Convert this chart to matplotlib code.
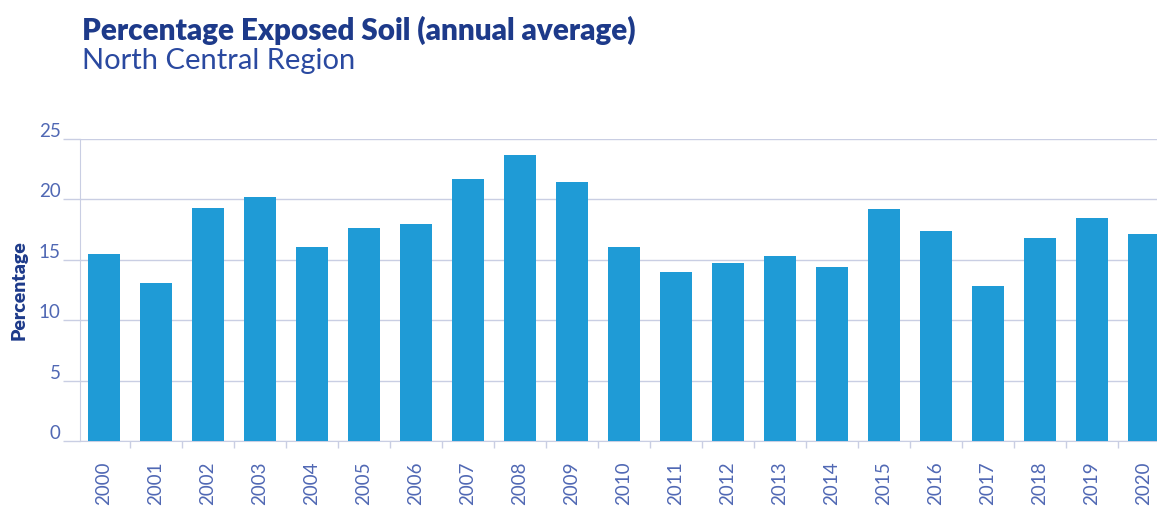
import matplotlib
matplotlib.use("Agg")
import matplotlib.pyplot as plt
import numpy as np

years = [str(y) for y in range(2000, 2021)]
exposed_soil = [15.5, 13.1, 19.3, 20.2, 16.1, 17.6, 18.0, 21.7, 23.7, 21.4,
                16.1, 14.0, 14.7, 15.3, 14.4, 19.2, 17.4, 12.8, 16.8, 18.5, 17.1]
y_ticks = [0, 5, 10, 15, 20, 25]

BAR = "#1f9bd6"
NAVY = "#1d3a8a"
TICK_TXT = "#5068b4"
GRID = "#c9cee3"

plt.rcParams["font.family"] = ["Lato", "DejaVu Sans"]

fig = plt.figure(figsize=(11.57, 5.10), dpi=100)
W, H = 1157, 510
ax = fig.add_axes([80 / W, 1 - 442 / H, (W - 80) / W, (442 - 140) / H])

x = np.arange(len(years))
ax.bar(x, exposed_soil, width=0.6, color=BAR, zorder=3)

ax.set_xlim(-0.46, 20.25)
ax.set_ylim(0, 25)

ax.set_yticks(y_ticks)
ax.set_yticklabels([str(v) for v in y_ticks], va="bottom", color=TICK_TXT,
                   fontsize=13.5, fontweight="normal")
ax.tick_params(axis="y", length=12, width=1, color=GRID, pad=2)
ax.grid(axis="y", color=GRID, linewidth=1, zorder=0)

ax.set_xticks(x)
ax.set_xticklabels(years, rotation=90, color=TICK_TXT, fontsize=13.5,
                   fontweight="normal", va="top")
ax.tick_params(axis="x", length=0, pad=14)
ax.set_xticks(x[:-1] + 0.5, minor=True)
ax.tick_params(axis="x", which="minor", length=5, width=1, color=GRID)

for side in ("top", "right"):
    ax.spines[side].set_visible(False)
ax.spines["left"].set_color(GRID)
ax.spines["bottom"].set_color(GRID)
ax.spines["left"].set_zorder(4)

fig.text(19 / W, 1 - 290 / H, "Percentage", rotation=90, fontsize=14,
         fontweight="heavy", color=NAVY, va="center", ha="center")

fig.text(82 / W, 1 - 30 / H, "Percentage Exposed Soil (annual average)",
         fontsize=21.3, fontweight="heavy", color=NAVY, va="center", ha="left")
fig.text(82 / W, 1 - 61 / H, "North Central Region",
         fontsize=21, fontweight="normal", color="#2a49a0", va="center", ha="left")

fig.savefig("out.png", dpi=100)
